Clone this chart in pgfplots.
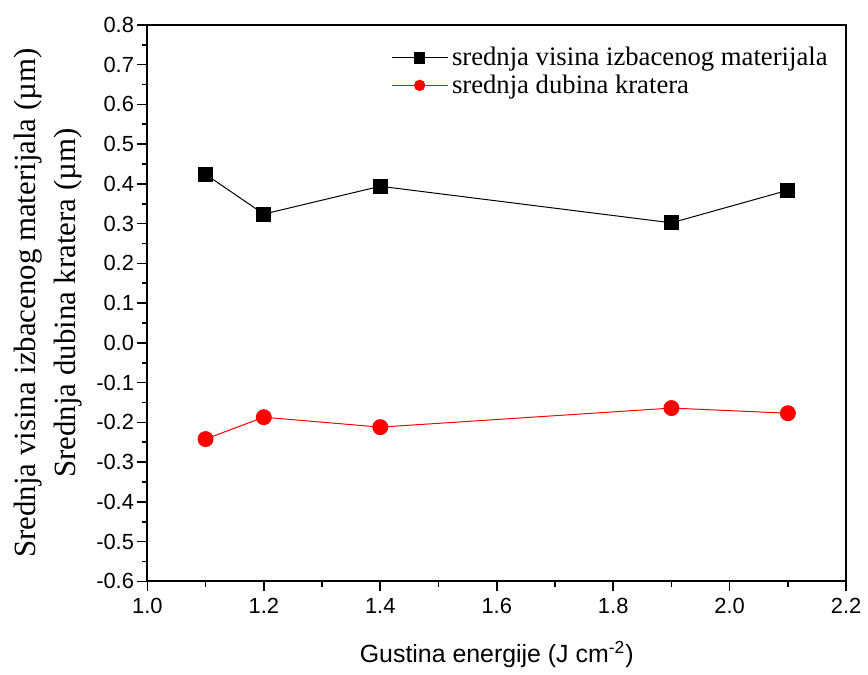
\documentclass[border=0pt]{standalone}
\usepackage{pgfplots}
\pgfplotsset{compat=1.18}
\usepackage{fontspec}
\setmainfont{Liberation Serif}
\newfontfamily\arialf{Liberation Sans}
\begin{document}
\begin{tikzpicture}
\begin{axis}[
  width=351pt, height=279.5pt, scale only axis,
  xmin=1.0, xmax=2.2, ymin=-0.6, ymax=0.8,
  xtick={1.0,1.2,...,2.2}, ytick={-0.6,-0.5,...,0.8},
  minor x tick num=1, minor y tick num=1,
  tick pos=left, tick align=outside,
  major tick length=5pt, minor tick length=2.8pt,
  axis line style={line width=1pt},
  every tick/.style={line width=0.8pt, black},
  /pgf/number format/assume math mode=true,
  /pgf/number format/.cd, fixed, fixed zerofill, precision=1, /pgfplots/.cd,
  ticklabel style={font=\arialf\fontsize{11}{13}\selectfont},
  yticklabel style={inner sep=1.5pt},
  xlabel={\arialf\fontsize{12.5}{14}\selectfont Gustina energije (J cm\textsuperscript{-2})},
  ylabel={Srednja visina izbacenog materijala (µm)\\[2pt]Srednja dubina kratera (µm)},
  ylabel style={align=center, font=\rmfamily\fontsize{15.5}{18}\selectfont,
    at={([xshift=-50pt]axis description cs:0,0.5)}, anchor=center},
  xlabel style={yshift=-7pt},
  legend style={draw=none, fill=none, at={(0.34,0.975)}, anchor=north west,
    font=\fontsize{13.4}{15}\selectfont, row sep=-1pt, legend cell align=left},
  legend image code/.code={%
    \draw[mark repeat=2, mark phase=2, mark size=2.6pt]
      plot coordinates {(0pt,0pt) (14pt,0pt) (28pt,0pt)};},
]
\addplot[black, line width=0.5pt, mark=square*, mark size=3.5pt, mark options={solid, fill=black}]
  coordinates {(1.1,0.424) (1.2,0.324) (1.4,0.394) (1.9,0.302) (2.1,0.384)};
\addlegendentry{srednja visina izbacenog materijala}
\addplot[red, line width=0.5pt, mark=*, mark size=3.75pt, mark options={solid, fill=red}]
  coordinates {(1.1,-0.242) (1.2,-0.187) (1.4,-0.212) (1.9,-0.164) (2.1,-0.177)};
\addlegendentry{srednja dubina kratera}
\end{axis}
\path (current axis.north) ++(0,12.5pt);
\path (current axis.west) ++(-74pt,0);
\end{tikzpicture}
\end{document}
